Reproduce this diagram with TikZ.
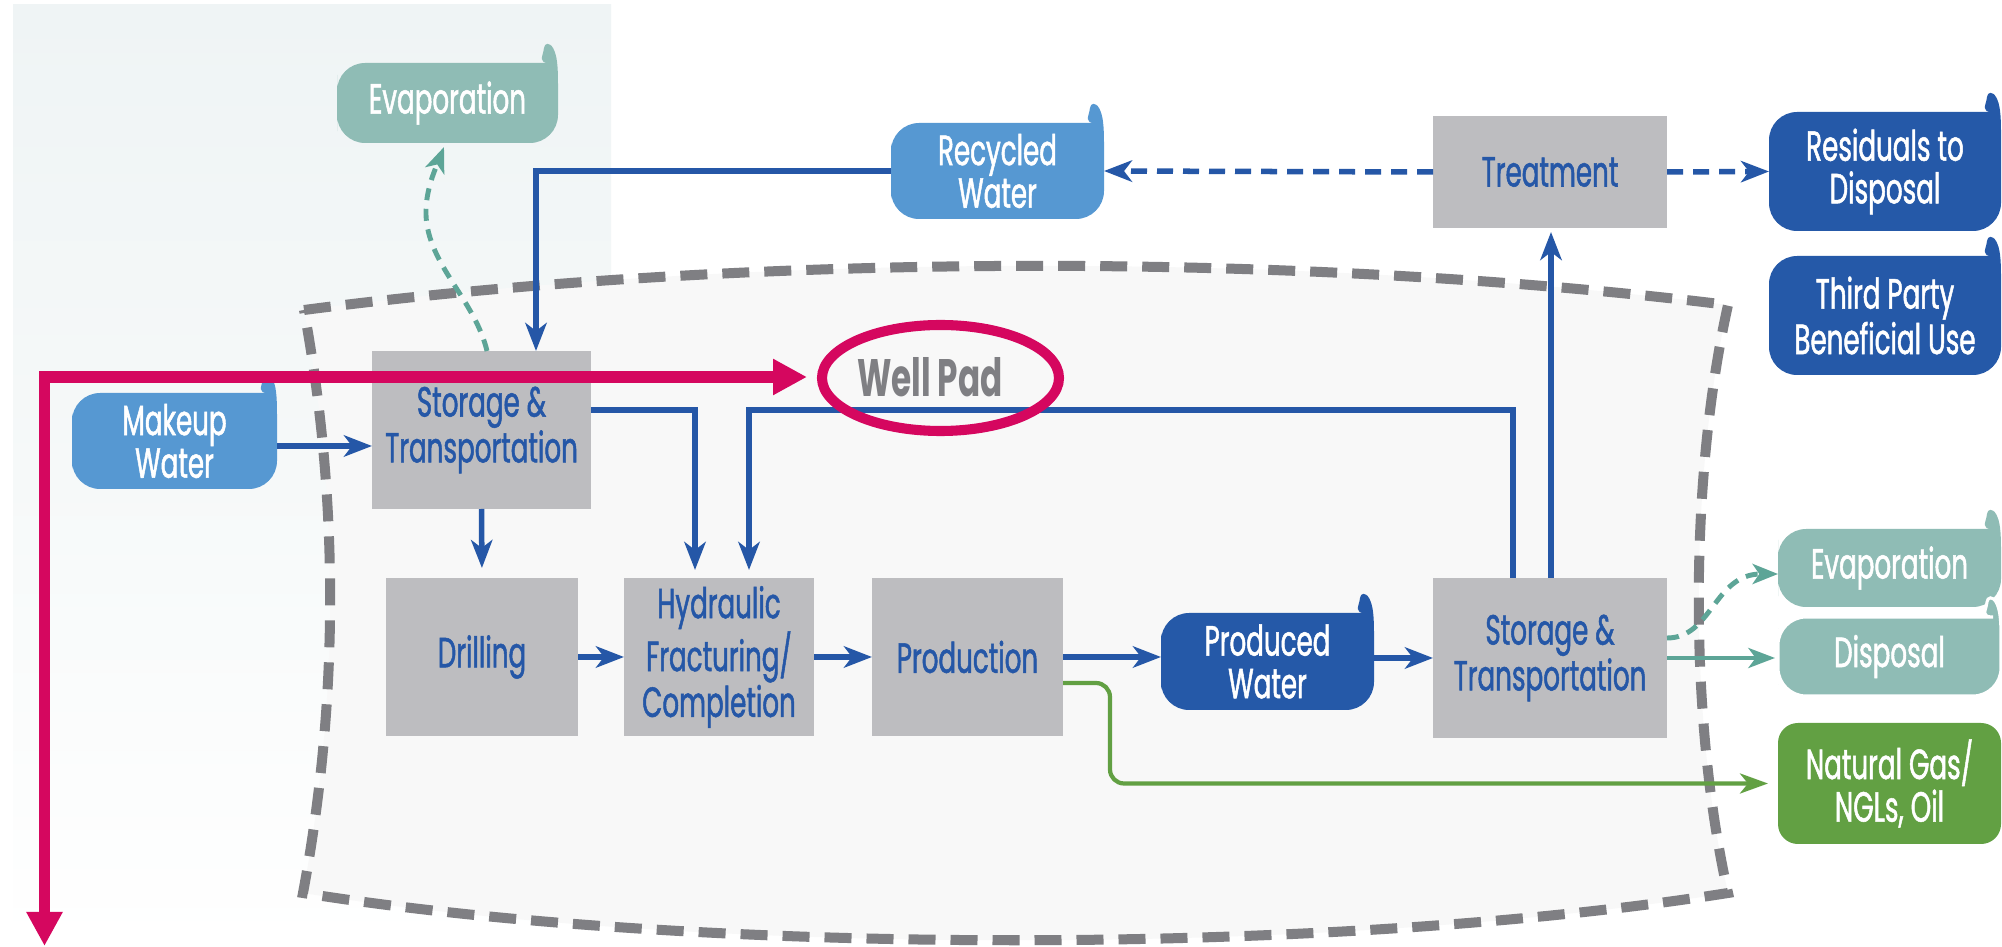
\documentclass[tikz,border=0pt]{standalone}
\usepackage{fontspec}
\setmainfont{Poppins}[FakeStretch=0.62]
\newfontfamily\medfont{Poppins}[FakeStretch=0.62, FakeBold=1.2]
\usetikzlibrary{arrows.meta,calc,shapes.geometric}
\definecolor{boxgray}{RGB}{189,189,192}
\definecolor{tblue}{RGB}{37,87,167}
\definecolor{dblue}{RGB}{37,89,168}
\definecolor{lblue}{RGB}{86,152,210}
\definecolor{tealb}{RGB}{143,188,181}
\definecolor{teala}{RGB}{93,165,151}
\definecolor{greenb}{RGB}{98,160,67}
\definecolor{pinkc}{RGB}{213,7,95}
\definecolor{dashgray}{RGB}{127,127,131}
\definecolor{padfill}{RGB}{248,248,248}
\definecolor{paneltop}{RGB}{239,244,245}
\definecolor{panelmid}{RGB}{246,249,249}
\newcommand\bxfont{\medfont\fontsize{18pt}{18.2pt}\selectfont}
\newcommand\wpfont{\fontsize{22.5pt}{24pt}\selectfont\bfseries}
\newcommand\bubble[7]{%
\fill[#6] (#2,{(#3+#5)/2}) [rounded corners=12pt] |- ({#4-36},#3) [sharp corners] .. controls ({#4-21},#3) and ({#4-15},{#3-6}) .. ({#4-14},{#3-15}) .. controls ({#4-13.5},{#3-20}) and ({#4-8.5},{#3-21}) .. ({#4-5},{#3-15}) .. controls ({#4-1},{#3-8}) and (#4,{#3+2}) .. (#4,{#3+22}) [rounded corners=12pt] |- (#2,#5) -- cycle;
\node[btext, minimum width={(#4-#2)*0.015cm}, minimum height={(#5-#3)*0.015cm}] (#1) at ({(#2+#4)/2},{(#3+#5)/2}) {#7};}
\newcommand\gbox[6]{%
\node[gbox, minimum width={(#4-#2)*0.015cm}, minimum height={(#5-#3)*0.015cm}] (#1) at ({(#2+#4)/2},{(#3+#5)/2}) {#6};}
\begin{document}
\begin{tikzpicture}[x=0.015cm,y=-0.015cm,
  every node/.style={outer sep=0pt},
  gbox/.style={fill=boxgray, text=tblue, align=center, inner sep=0pt, font=\bxfont},
  btext/.style={text=white, align=center, inner sep=0pt, font=\bxfont},
  barrow/.style={draw=tblue, line width=2.35pt, -{Stealth[length=0.42cm,width=0.32cm,inset=0.12cm]}},
  bdash/.style={barrow, dash pattern=on 0.24cm off 0.15cm},
  tarrow/.style={draw=teala, line width=1.8pt, -{Stealth[length=0.4cm,width=0.3cm,inset=0.11cm]}},
  tdash/.style={draw=teala, line width=2.1pt, dash pattern=on 0.18cm off 0.13cm, -{Stealth[length=0.38cm,width=0.3cm,inset=0.1cm]}},
  garrow/.style={draw=greenb, line width=1.8pt, -{Stealth[length=0.42cm,width=0.3cm,inset=0.12cm]}},
  pinkl/.style={draw=pinkc, line width=4.7pt}]
\useasboundingbox (0,0) rectangle (2002,947);
\fill[white] (0,0) rectangle (2002,947);
% left panel
\shade[top color=paneltop, bottom color=white, middle color=panelmid] (13,5) rectangle (611,947);
% well pad region
\fill[padfill] (304,310) .. controls (750,252) and (1300,252) .. (1728,305) .. controls (1689,480) and (1689,720) .. (1728,893) .. controls (1330,956) and (700,956) .. (303,893) .. controls (339,700) and (339,500) .. (304,310) -- cycle;
\draw[dashgray, line width=4.27pt, dash pattern=on 0.405cm off 0.225cm] (304,310) .. controls (750,252) and (1300,252) .. (1728,305) .. controls (1689,480) and (1689,720) .. (1728,893) .. controls (1330,956) and (700,956) .. (303,893) .. controls (339,700) and (339,500) .. (304,310) -- cycle;
% gray boxes
\gbox{st1}{372}{351}{591}{509}{Storage \&\\Transportation}
\gbox{drill}{386}{578}{578}{736}{Drilling}
\gbox{hyd}{624}{578}{814}{736}{Hydraulic\\Fracturing/\\Completion}
\gbox{prod}{872}{578}{1063}{736}{Production}
\gbox{st2}{1433}{578}{1667}{738}{Storage \&\\Transportation}
\gbox{treat}{1433}{116}{1667}{228}{Treatment}
% bubbles
\bubble{ev1}{337}{63}{558}{143}{tealb}{Evaporation}
\bubble{rw}{891}{123}{1104}{219}{lblue}{Recycled\\Water}
\bubble{res}{1769}{112}{2001}{231}{dblue}{Residuals to\\Disposal}
\bubble{tp}{1769}{256}{2001}{375}{dblue}{Third Party\\Beneficial Use}
\bubble{mk}{72}{393}{277}{489}{lblue}{Makeup\\Water}
\bubble{pw}{1161}{613}{1374}{710}{dblue}{Produced\\Water}
\bubble{ev2}{1778}{529}{2001}{607}{tealb}{Evaporation}
\bubble{disp}{1778}{617}{2001}{696}{tealb, draw=white, line width=1.3pt}{Disposal}
\node[btext, fill=greenb, rounded corners=8.5pt, minimum width={223*0.015cm}, minimum height={121*0.015cm}] (ng) at (1889.5,783.5) {Natural Gas/\\NGLs, Oil};
% connectors
\coordinate (s1r) at ($(st1.east)+(0,-20)$);
\coordinate (hL) at ($(hyd.north)+(-24,0)$);
\coordinate (hR) at ($(hyd.north)+(30,0)$);
\coordinate (s2l) at ($(st2.north)+(-37,0)$);
\draw[barrow] (rw.west) -| ($(st1.north)+(54.5,0)$);
\draw[bdash] (treat.west) -- (rw.east);
\draw[bdash] (treat.east) -- (res.west);
\draw[barrow] ($(mk.east)+(0,5)$) -- ($(st1.west)+(0,16)$);
\draw[barrow, shorten >=0.15cm] (st1.south) -- (drill.north);
\draw[barrow, shorten >=0.12cm] (s1r) -| (hL);
\draw[barrow, shorten >=0.12cm] (s2l) |- (s1r -| hR) -- (hR);
\draw[barrow, shorten >=0.06cm] ($(st2.north)+(1,0)$) -- ($(treat.south)+(1,0)$);
\draw[barrow] (drill.east) -- (hyd.west);
\draw[barrow] (hyd.east) -- (prod.west);
\draw[barrow] (prod.east) -- (prod.east -| pw.west);
\draw[barrow] (st2.west -| pw.east) -- (st2.west);
\draw[tarrow, shorten >=0.045cm] (st2.east) -- (st2.east -| disp.west);
\draw[tdash] ($(st2.east)+(0,-20)$) .. controls +(45,0) and +(-64,0) .. ($(ev2.west)+(0,6)$);
\draw[tdash] ($(st1.north)+(5.5,0)$) .. controls (475,300) and (428,265) .. (426,215) .. controls (425,190) and (437,165) .. ($(ev1.south)+(-3.5,4)$);
\draw[garrow, rounded corners=6pt, shorten >=0.15cm] ($(prod.east)+(0,26)$) -- ++(47,0) |- (ng.west);
% well pad highlight
\node[font=\wpfont, text=dashgray, inner sep=0pt] (wpt) at (930,377) {Well Pad};
\node[draw=pinkc, line width=4.3pt, ellipse, minimum width={237*0.015cm}, minimum height={106*0.015cm}, inner sep=0pt] (wp) at (940.5,378) {};
\coordinate (pc) at (44.5,377);
\coordinate (pb) at (44.5,946);
\draw[pinkl, {Triangle[length=0.51cm,width=0.51cm]}-{Triangle[length=0.51cm,width=0.51cm]}, shorten <=0.225cm] (pc -| wp.west) -- (pc) -- (pb);
\end{tikzpicture}
\end{document}
